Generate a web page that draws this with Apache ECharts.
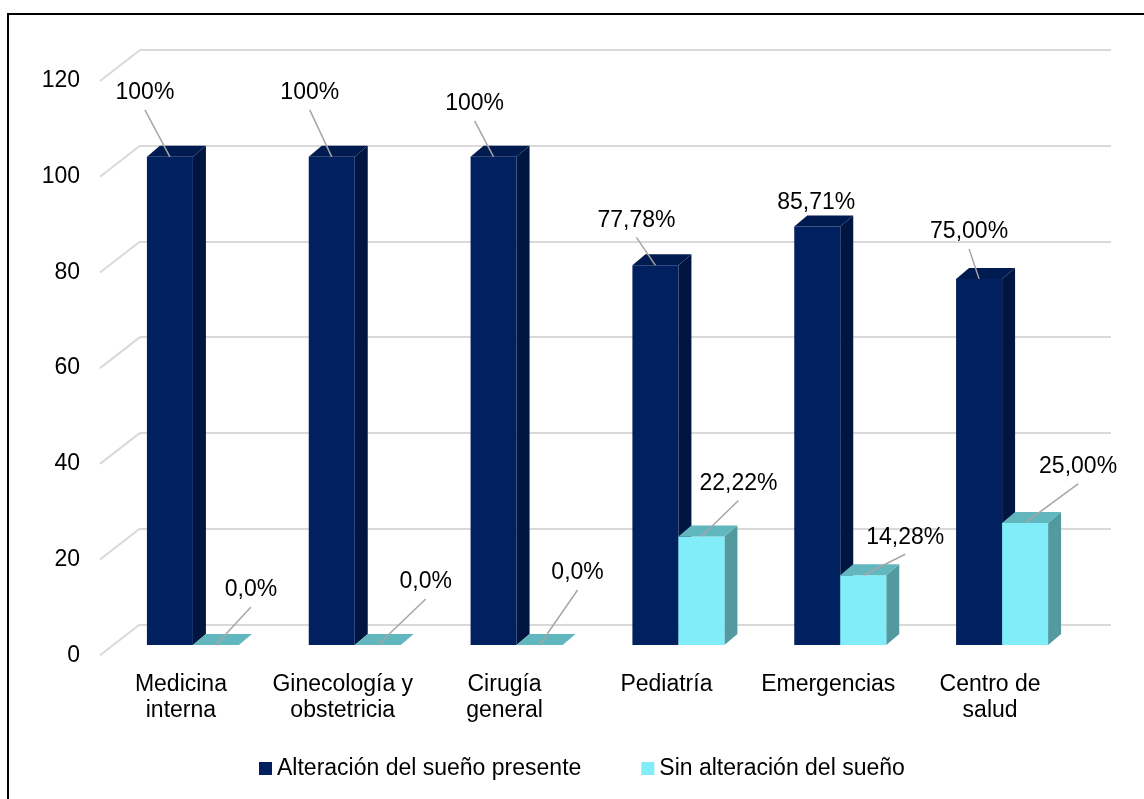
<!DOCTYPE html>
<html><head><meta charset="utf-8">
<script src="https://cdn.jsdelivr.net/npm/echarts@6/dist/echarts.min.js"></script>
<style>html,body{margin:0;padding:0;background:#fff}#c{width:1144px;height:799px}</style>
</head><body><div id="c"></div>
<script>
// ---- data ----
const categories = ['Medicina\ninterna', 'Ginecología y\nobstetricia', 'Cirugía\ngeneral', 'Pediatría', 'Emergencias', 'Centro de\nsalud'];
const alteracionPresente = [100, 100, 100, 77.78, 85.71, 75.00];
const sinAlteracion = [0, 0, 0, 22.22, 14.28, 25.00];
const alteracionLabels = ['100%', '100%', '100%', '77,78%', '85,71%', '75,00%'];
const sinAlteracionLabels = ['0,0%', '0,0%', '0,0%', '22,22%', '14,28%', '25,00%'];
const yTicks = [0, 20, 40, 60, 80, 100, 120];
const seriesNames = ['Alteración del sueño presente', 'Sin alteración del sueño'];

// ---- layout / style ----
const FONT = '"Liberation Sans", Arial, sans-serif';
const FS = 23;
const BAR_W = 46, FRONT_DX = -28, FRONT_DY = 20.7, DEPTH_DX = 13, DEPTH_DY = -11, PERSP = 1.02;
const DIAG_DX = -40, DIAG_DY = 31, YLABEL_GAP = 20;
const darkColors = {front: '#002060', top: '#001B4F', side: '#001640'};
const cyanColors = {front: '#80EDF9', top: '#62B6BE', side: '#529A9F'};
// label offset from bar front-top centre [dx, dy, leader?]
const darkLabelPos = [[-25, -64, 1], [-22, -64, 1], [-19, -53, 1], [-19, -45, 1], [-1, -24, 0], [-10, -47, 1]];
const cyanLabelPos = [[35, -55, 1], [48, -63, 1], [38, -72, 1], [37, -53, 1], [42, -38, 1], [53, -56, 1]];

function barRender(idx, colors, labels, offsets) {
  return function (params, api) {
    const i = api.value(0), v = api.value(1);
    const base = api.coord([i, 0]);
    const top = api.coord([i, v]);
    const cx = base[0] + FRONT_DX;
    const y0 = base[1] + FRONT_DY;
    const h = (base[1] - top[1]) * PERSP;
    const x1 = idx === 0 ? cx - BAR_W : cx;
    const x2 = x1 + BAR_W;
    const yT = y0 - h;
    const children = [];
    if (h > 0.5) {
      children.push({type: 'polygon', shape: {points: [[x2, yT], [x2 + DEPTH_DX, yT + DEPTH_DY], [x2 + DEPTH_DX, y0 + DEPTH_DY], [x2, y0]]}, style: {fill: colors.side}});
      children.push({type: 'rect', shape: {x: x1, y: yT, width: BAR_W, height: h}, style: {fill: colors.front}});
    }
    children.push({type: 'polygon', shape: {points: [[x1, yT], [x1 + DEPTH_DX, yT + DEPTH_DY], [x2 + DEPTH_DX, yT + DEPTH_DY], [x2, yT]]}, style: {fill: colors.top}});
    const bx = (x1 + x2) / 2;
    const off = offsets[i];
    const lx = bx + off[0], ly = yT + off[1];
    if (off[2]) {
      children.push({type: 'line', z2: 50, shape: {x1: lx, y1: ly + 17, x2: bx, y2: yT}, style: {stroke: '#A6A6A6', lineWidth: 1.5}});
    }
    children.push({type: 'text', z2: 60, style: {x: lx, y: ly, text: labels[i], fill: '#000', fontSize: FS, fontFamily: FONT, align: 'center', verticalAlign: 'middle'}});
    return {type: 'group', children: children};
  };
}

const chart = echarts.init(document.getElementById('c'), null, {renderer: 'canvas'});
chart.setOption({
  animation: false,
  backgroundColor: '#fff',
  textStyle: {fontFamily: FONT},
  graphic: [{type: 'rect', shape: {x: 8, y: 14, width: 1150, height: 800}, style: {fill: 'none', stroke: '#000', lineWidth: 2}, z: 100}],
  grid: {left: 140, right: 33, top: 50, bottom: 174.7},
  legend: {
    data: seriesNames, left: 259, top: 757, padding: 0, icon: 'rect', itemWidth: 13, itemHeight: 13, itemGap: 60,
    textStyle: {fontSize: FS, color: '#000', fontFamily: FONT}
  },
  xAxis: {
    type: 'category', data: categories,
    axisLine: {show: false}, axisTick: {show: false},
    axisLabel: {interval: 0, fontSize: FS, lineHeight: 26, color: '#000', fontFamily: FONT, verticalAlign: 'top', margin: 47, padding: [0, 80, 0, 0]}
  },
  yAxis: {
    type: 'value', min: 0, max: 120, interval: 20,
    axisLine: {show: false}, axisTick: {show: false},
    splitLine: {lineStyle: {color: '#D9D9D9', width: 2}},
    axisLabel: {show: false}
  },
  series: [
    {
      type: 'custom', name: 'gridDiag', silent: true, z: 1,
      data: yTicks.map(v => [0, v]),
      renderItem: function (params, api) {
        const v = api.value(1);
        const p = api.coord([0, v]);
        const x0 = params.coordSys.x;
        return {type: 'group', children: [
          {type: 'line', shape: {x1: x0, y1: p[1], x2: x0 + DIAG_DX, y2: p[1] + DIAG_DY}, style: {stroke: '#D9D9D9', lineWidth: 2}},
          {type: 'text', style: {x: x0 + DIAG_DX - YLABEL_GAP, y: p[1] + DIAG_DY, text: String(v), fill: '#000', fontSize: FS, fontFamily: FONT, align: 'right', verticalAlign: 'middle'}}
        ]};
      }
    },
    {
      type: 'custom', name: seriesNames[0], z: 2, itemStyle: {color: darkColors.front},
      encode: {x: 0, y: 1},
      data: alteracionPresente.map((v, i) => [i, v]),
      renderItem: barRender(0, darkColors, alteracionLabels, darkLabelPos)
    },
    {
      type: 'custom', name: seriesNames[1], z: 2, itemStyle: {color: cyanColors.front},
      encode: {x: 0, y: 1},
      data: sinAlteracion.map((v, i) => [i, v]),
      renderItem: barRender(1, cyanColors, sinAlteracionLabels, cyanLabelPos)
    }
  ]
});
</script></body></html>
